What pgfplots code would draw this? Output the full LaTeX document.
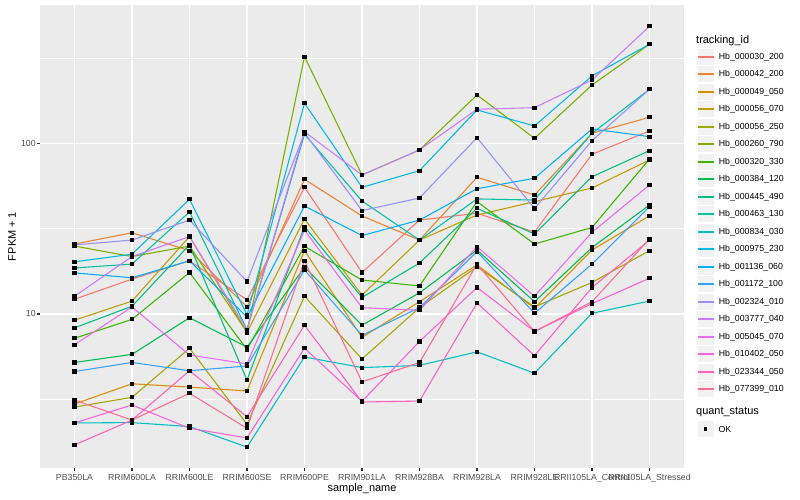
\documentclass[border=0pt]{standalone}
\usepackage{fontspec}
\setmainfont{Liberation Sans}
\usepackage{pgfplots}
\pgfplotsset{compat=1.18}
\definecolor{panelbg}{HTML}{EBEBEB}
\definecolor{legbg}{HTML}{F2F2F2}
\definecolor{tickgray}{HTML}{4D4D4D}
\definecolor{tickline}{HTML}{333333}
\definecolor{c1}{HTML}{F8766D}
\definecolor{c2}{HTML}{EA8331}
\definecolor{c3}{HTML}{D89000}
\definecolor{c4}{HTML}{C09B00}
\definecolor{c5}{HTML}{A3A500}
\definecolor{c6}{HTML}{7CAE00}
\definecolor{c7}{HTML}{39B600}
\definecolor{c8}{HTML}{00BB4E}
\definecolor{c9}{HTML}{00BF7D}
\definecolor{c10}{HTML}{00C1A3}
\definecolor{c11}{HTML}{00BFC4}
\definecolor{c12}{HTML}{00BAE0}
\definecolor{c13}{HTML}{00B0F6}
\definecolor{c14}{HTML}{35A2FF}
\definecolor{c15}{HTML}{9590FF}
\definecolor{c16}{HTML}{C77CFF}
\definecolor{c17}{HTML}{E76BF3}
\definecolor{c18}{HTML}{FA62DB}
\definecolor{c19}{HTML}{FF62BC}
\definecolor{c20}{HTML}{FF6C91}
\pgfplotsset{
  ser/.style={color=#1, line width=1.07bp, mark=square*, mark size=1.6bp,
    mark options={fill=black, draw=black, line width=0pt},
    legend image code/.code={
      \draw[fill=legbg, draw=white, line width=0.5bp] (0bp,-8.5bp) rectangle (17.3bp,8.5bp);
      \draw[color=#1, line width=1.6bp] (0.9bp,0bp) -- (16.4bp,0bp);
    }},
}
\begin{document}
\begin{tikzpicture}[x=1bp,y=1bp]
\path[use as bounding box] (-40,-32) rectangle (760,468);
\begin{axis}[
  at={(0,0)}, anchor=south west,
  scale only axis, width=644bp, height=463bp,
  xmin=-0.6, xmax=10.6,
  ymode=log, ymin=1.2525, ymax=645.9,
  axis background/.style={fill=panelbg},
  axis line style={draw=none},
  xtick={0,1,2,3,4,5,6,7,8,9,10},
  xticklabels={PB350LA,RRIM600LA,RRIM600LE,RRIM600SE,RRIM600PE,RRIM901LA,RRIM928BA,RRIM928LA,RRIM928LE,RRII105LA\_Control,RRII105LA\_Stressed},
  ytick={10,100}, yticklabels={10,100},
  minor ytick={3.1623,31.623,316.23},
  grid=both,
  major grid style={white, line width=1.07bp},
  minor grid style={white, line width=0.53bp},
  tick pos=left,
  tick align=outside,
  major tick length=2.75bp,
  minor tick length=0bp,
  every tick/.style={tickline, line width=1.07bp},
  ticklabel style={font=\fontsize{8.8}{10}\selectfont, text=tickgray},
  yticklabel style={xshift=2bp},
  xlabel={sample\_name},
  ylabel={FPKM + 1},
  every axis x label/.style={at={(axis description cs:0.5,0)}, anchor=center, yshift=-21bp, font=\fontsize{11}{13}\selectfont},
  every axis y label/.style={at={(axis description cs:0,0.5)}, anchor=center, rotate=90, yshift=28bp, font=\fontsize{11}{13}\selectfont},
  legend style={at={(1,1)}, anchor=north west, xshift=13bp, yshift=-43bp,
    draw=none, fill=none, inner sep=0pt, outer sep=0pt, row sep=0pt, column sep=4bp,
    font=\fontsize{8.8}{10}\selectfont, nodes={inner sep=0pt}},
  legend cell align=left,
]
\addplot[ser=c1] coordinates {(0,12.2) (1,16.0) (2,20.5) (3,12.1) (4,55.2) (5,17.5) (6,35.5) (7,38.9) (8,30.2) (9,86.2) (10,118.1)};
\addlegendentry{Hb\_000030\_200}
\addplot[ser=c2] coordinates {(0,25.7) (1,29.9) (2,23.5) (3,11.0) (4,61.5) (5,37.5) (6,27.1) (7,63.2) (8,49.8) (9,114.4) (10,142.0)};
\addlegendentry{Hb\_000042\_200}
\addplot[ser=c3] coordinates {(0,2.97) (1,3.9) (2,3.73) (3,3.54) (4,23.5) (5,7.3) (6,11.8) (7,19.4) (8,10.8) (9,23.7) (10,37.6)};
\addlegendentry{Hb\_000049\_050}
\addplot[ser=c4] coordinates {(0,9.2) (1,11.9) (2,28.4) (3,7.8) (4,36.0) (5,12.9) (6,27.1) (7,38.0) (8,45.5) (9,54.7) (10,79.9)};
\addlegendentry{Hb\_000056\_070}
\addplot[ser=c5] coordinates {(0,2.85) (1,3.25) (2,6.3) (3,2.26) (4,12.7) (5,5.45) (6,10.9) (7,18.9) (8,11.0) (9,15.3) (10,23.5)};
\addlegendentry{Hb\_000056\_250}
\addplot[ser=c6] coordinates {(0,25.0) (1,21.7) (2,25.0) (3,7.8) (4,321.6) (5,65.2) (6,91.4) (7,191.9) (8,106.9) (9,219.6) (10,380.2)};
\addlegendentry{Hb\_000260\_790}
\addplot[ser=c7] coordinates {(0,7.2) (1,9.3) (2,17.5) (3,6.2) (4,24.9) (5,15.8) (6,14.6) (7,45.5) (8,25.7) (9,32.1) (10,80.9)};
\addlegendentry{Hb\_000320\_330}
\addplot[ser=c8] coordinates {(0,5.2) (1,5.8) (2,9.5) (3,6.4) (4,18.8) (5,8.6) (6,13.3) (7,23.7) (8,11.8) (9,24.5) (10,43.5)};
\addlegendentry{Hb\_000384\_120}
\addplot[ser=c9] coordinates {(0,8.3) (1,11.1) (2,25.4) (3,4.1) (4,32.5) (5,12.5) (6,19.9) (7,41.6) (8,29.4) (9,63.7) (10,90.5)};
\addlegendentry{Hb\_000445\_490}
\addplot[ser=c10] coordinates {(0,18.6) (1,19.6) (2,39.6) (3,8.1) (4,112.9) (5,45.9) (6,27.1) (7,47.2) (8,46.5) (9,114.4) (10,207.2)};
\addlegendentry{Hb\_000463\_130}
\addplot[ser=c11] coordinates {(0,2.30) (1,2.31) (2,2.19) (3,1.66) (4,5.6) (5,4.85) (6,5.0) (7,6.0) (8,4.5) (9,10.1) (10,11.9)};
\addlegendentry{Hb\_000834\_030}
\addplot[ser=c12] coordinates {(0,20.2) (1,22.4) (2,47.0) (3,9.9) (4,171.6) (5,55.2) (6,69.1) (7,156.7) (8,126.3) (9,248) (10,380.2)};
\addlegendentry{Hb\_000975\_230}
\addplot[ser=c13] coordinates {(0,17.4) (1,16.3) (2,20.5) (3,9.6) (4,42.9) (5,28.8) (6,35.5) (7,54.2) (8,62.4) (9,121.3) (10,109.3)};
\addlegendentry{Hb\_001136\_060}
\addplot[ser=c14] coordinates {(0,4.6) (1,5.2) (2,4.65) (3,4.96) (4,18.1) (5,7.5) (6,10.9) (7,23.2) (8,10.1) (9,19.6) (10,42.6)};
\addlegendentry{Hb\_001172\_100}
\addplot[ser=c15] coordinates {(0,25.4) (1,27.1) (2,35.5) (3,15.5) (4,114.9) (5,40.3) (6,47.8) (7,107.8) (8,41.5) (9,103.6) (10,207.2)};
\addlegendentry{Hb\_002324\_010}
\addplot[ser=c16] coordinates {(0,12.7) (1,21.7) (2,28.4) (3,8.1) (4,116.9) (5,65.2) (6,91.4) (7,158.2) (8,161.7) (9,234.9) (10,484.6)};
\addlegendentry{Hb\_003777\_040}
\addplot[ser=c17] coordinates {(0,6.6) (1,11.0) (2,5.75) (3,5.1) (4,31.0) (5,10.9) (6,10.5) (7,24.8) (8,12.7) (9,30.1) (10,57.0)};
\addlegendentry{Hb\_005045\_070}
\addplot[ser=c18] coordinates {(0,2.30) (1,2.93) (2,2.14) (3,1.88) (4,6.3) (5,3.08) (6,6.9) (7,14.3) (8,7.9) (9,11.5) (10,16.2)};
\addlegendentry{Hb\_010402\_050}
\addplot[ser=c19] coordinates {(0,1.71) (1,2.39) (2,4.65) (3,2.50) (4,8.6) (5,3.05) (6,3.09) (7,11.6) (8,5.7) (9,14.3) (10,27.1)};
\addlegendentry{Hb\_023344\_050}
\addplot[ser=c20] coordinates {(0,3.13) (1,2.39) (2,3.43) (3,2.14) (4,20.5) (5,4.0) (6,5.2) (7,19.6) (8,7.9) (9,11.8) (10,27.5)};
\addlegendentry{Hb\_077399\_010}
\end{axis}
\node[anchor=west, inner sep=0pt, font=\fontsize{11}{13}\selectfont] at (656,427.3) {tracking\_id};
\node[anchor=west, inner sep=0pt, font=\fontsize{11}{13}\selectfont] at (656,55.7) {quant\_status};
\draw[fill=legbg, draw=white, line width=0.5bp] (657,30.35) rectangle (674.3,47.65);
\fill[black] (664.05,37.4) rectangle (667.25,40.6);
\node[anchor=west, inner sep=0pt, font=\fontsize{8.8}{10}\selectfont] at (678.3,39) {OK};
\end{tikzpicture}
\end{document}
